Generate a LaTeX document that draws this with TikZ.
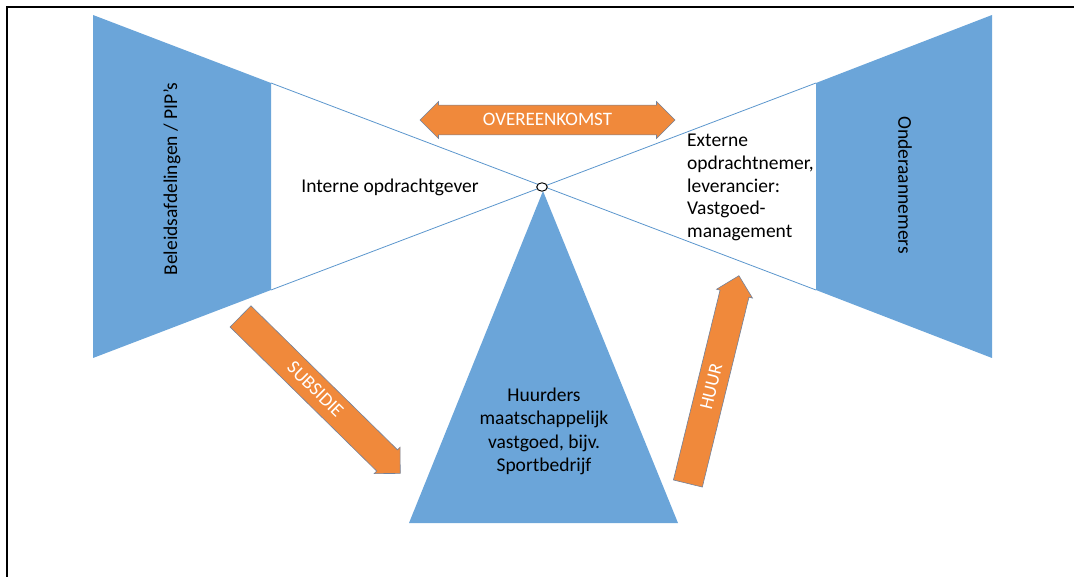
\documentclass[tikz,border=0pt]{standalone}
\usepackage{fontspec}
\setmainfont{Carlito}
\usetikzlibrary{shapes.arrows,shapes.geometric}

\definecolor{vlak}{RGB}{107,165,217}
\definecolor{lijn}{RGB}{91,150,205}
\definecolor{oranje}{RGB}{240,137,59}
\definecolor{rand}{RGB}{115,130,155}

\tikzset{
  pijl/.style={fill=oranje, draw=rand, line width=0.6pt, text=white,
    font=\fontsize{19}{22}\selectfont, inner xsep=2pt, inner ysep=0pt,
    text height=13.5pt, text depth=2.3pt, minimum width=37pt,
    single arrow head extend=2pt, single arrow head indent=0pt,
    double arrow head extend=2pt, double arrow head indent=0pt},
  tekst/.style={font=\fontsize{19.5}{23.5}\selectfont, inner sep=0pt},
}

\begin{document}
\begin{tikzpicture}[x=1pt,y=-1pt]
      \useasboundingbox (0,0) rectangle (1074,577);
      \draw[line width=2pt] (7,577) -- (7,7) -- (1074,7);
      \coordinate (A) at (93,15);
      \coordinate (B) at (271,83);
      \coordinate (C) at (271,290);
      \coordinate (D) at (93,358);
      \coordinate (E) at (816,83);
      \coordinate (F) at (992,15);
      \coordinate (G) at (992,358);
      \coordinate (H) at (816,290);
      \coordinate (T) at (543,191);
      \coordinate (U) at (409,523);
      \coordinate (V) at (678,523);
      \coordinate (S) at (240.3,316.2);
      \coordinate (R) at (687.8,483.8);
      \draw[lijn, line width=0.8pt] (B) -- (H) (C) -- (E);
      \fill[vlak] (A) -- (B) -- (C) -- (D) -- cycle;
      \fill[vlak] (E) -- (F) -- (G) -- (H) -- cycle;
      \fill[vlak] (T) -- (U) -- (V) -- cycle;
      \node[draw, ellipse, fill=white, line width=1pt, minimum width=10.6pt,
        minimum height=8.4pt, inner sep=0pt] (hub) at (542,187) {};
      \node[pijl, double arrow, minimum height=255pt] (akkoord) at (547.5,120) {OVEREENKOMST};
      \node[pijl, single arrow, minimum height=224pt, rotate=-44.5, anchor=tail] (subsidie) at (S) {SUBSIDIE};
      \node[pijl, single arrow, minimum height=214pt, rotate=76.2, anchor=tail] (huur) at (R) {HUUR};
      \node[tekst, rotate=90] (beleid) at (172,179) {Beleidsafdelingen / PIP's};
      \node[tekst, rotate=-90] (onder) at (905,185) {Onderaannemers};
      \node[tekst] (intern) at (390,187) {Interne opdrachtgever};
      \node[tekst, align=left, anchor=west, font=\fontsize{19.5}{22.8}\selectfont] (extern) at (687,187.5)
        {Externe\\opdrachtnemer,\\leverancier:\\Vastgoed-\\management};
      \node[tekst, align=center] (huurders) at (544,431.5)
        {Huurders\\maatschappelijk\\vastgoed, bijv.\\Sportbedrijf};
    \end{tikzpicture}
\end{document}
